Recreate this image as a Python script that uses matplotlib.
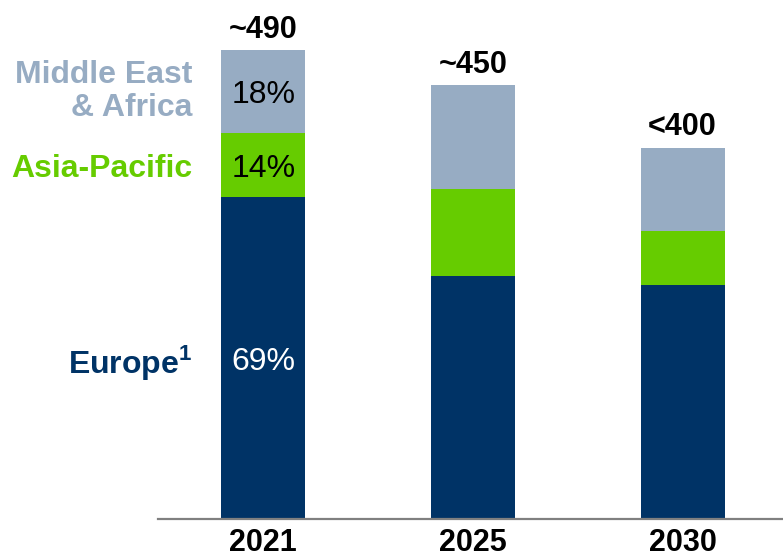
import matplotlib
matplotlib.use("Agg")
import matplotlib.pyplot as plt
import numpy as np

plt.rcParams['font.family'] = ['Liberation Sans', 'DejaVu Sans']
plt.rcParams['mathtext.fontset'] = 'custom'
plt.rcParams['mathtext.rm'] = 'Liberation Sans'
plt.rcParams['mathtext.bf'] = 'Liberation Sans:bold'

years = ['2021', '2025', '2030']
europe = [336, 254, 244]
asia_pacific = [67, 91, 57]
mea = [87, 108, 87]
total_labels = ['~490', '~450', '<400']

c_europe = '#003366'
c_apac = '#66CC00'
c_mea = '#97ACC3'

fig = plt.figure(figsize=(7.83, 5.58), dpi=100)
# axes spans from the axis line up to the top edge
ax = fig.add_axes([158 / 783, (558 - 518.7) / 558, 625 / 783, 518.7 / 558])

x = np.arange(len(years))
width = 0.4
europe = np.array(europe)
asia_pacific = np.array(asia_pacific)
mea = np.array(mea)

ax.bar(x, europe, width, color=c_europe)
ax.bar(x, asia_pacific, width, bottom=europe, color=c_apac)
ax.bar(x, mea, width, bottom=europe + asia_pacific, color=c_mea)

ax.set_xlim(-0.502, 2.479)
ax.set_ylim(0, 518.7 / 0.9565)

totals = europe + asia_pacific + mea
for xi, t, lab in zip(x, totals, total_labels):
    ax.annotate(lab, (xi, t), xytext=(0, 9), textcoords='offset points',
                ha='center', va='baseline', fontsize=22, fontweight='bold')

# shares for the first year, printed inside its segments
t0 = totals[0]
segs = [(europe[0], 0, 'white'),
        (asia_pacific[0], europe[0], 'black'),
        (mea[0], europe[0] + asia_pacific[0], 'black')]
for h, b, col in segs:
    ax.text(0, b + h / 2, f'{round(100 * h / t0)}%', ha='center',
            va='center_baseline', fontsize=23, color=col)

# region names to the left of the first bar
lx = -width / 2 - 0.138
ax.text(lx, europe[0] / 2, r'Europe$^{\mathbf{1}}$', ha='right',
        va='center_baseline', fontsize=23, fontweight='bold', color=c_europe)
ax.text(lx, europe[0] + asia_pacific[0] / 2, 'Asia-Pacific', ha='right',
        va='center_baseline', fontsize=23, fontweight='bold', color=c_apac)
ax.text(lx, europe[0] + asia_pacific[0] + mea[0] / 2, 'Middle East\n& Africa',
        ha='right', va='center', fontsize=23, fontweight='bold', color=c_mea,
        linespacing=1.1)

ax.set_xticks(x)
ax.set_xticklabels(years, fontsize=22, fontweight='bold')
ax.tick_params(axis='x', length=0, pad=7)
ax.set_yticks([])
for s in ['top', 'left', 'right']:
    ax.spines[s].set_visible(False)
ax.spines['bottom'].set_color('#808080')
ax.spines['bottom'].set_linewidth(1.6)

fig.savefig('out.png', dpi=100)
